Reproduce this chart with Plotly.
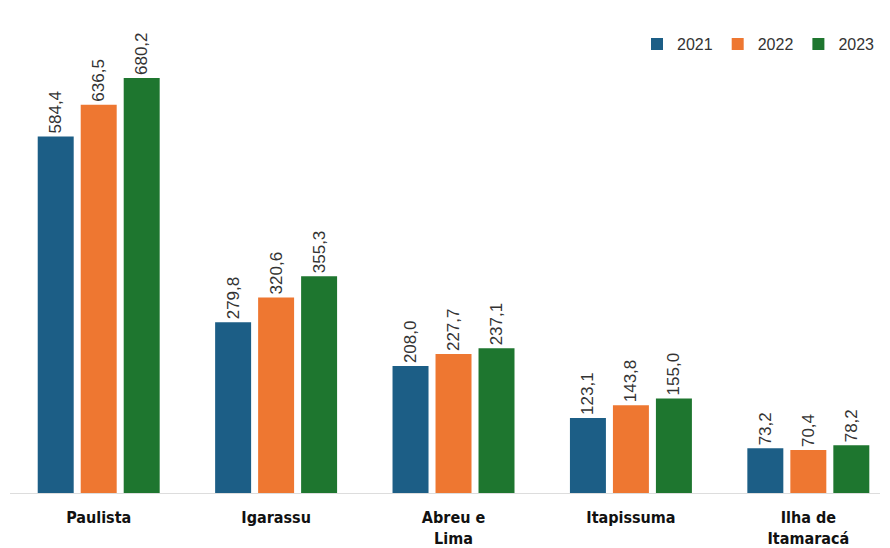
import plotly.graph_objects as go

municipios = ["Paulista", "Igarassu", "Abreu e<br>Lima", "Itapissuma", "Ilha de<br>Itamaracá"]
anos = ["2021", "2022", "2023"]
valores_2021 = [584.4, 279.8, 208.0, 123.1, 73.2]
valores_2022 = [636.5, 320.6, 227.7, 143.8, 70.4]
valores_2023 = [680.2, 355.3, 237.1, 155.0, 78.2]
cores = ["#1C5E86", "#EE7731", "#1E762F"]

fig = go.Figure()
for ano, vals, cor in zip(anos, [valores_2021, valores_2022, valores_2023], cores):
    fig.add_trace(go.Bar(
        x=municipios, y=vals, name=ano,
        marker=dict(color=cor, line=dict(width=0)),
        texttemplate="%{y:.1f}", textposition="outside", textangle=-90,
        constraintext="none",
        textfont=dict(family="Liberation Sans, Arial, sans-serif", size=17, color="#333333"),
        cliponaxis=False,
    ))

fig.update_layout(
    width=890, height=548,
    margin=dict(l=10, r=10, t=20, b=55, autoexpand=False),
    paper_bgcolor="white", plot_bgcolor="white",
    separators=",.",
    barmode="group", bargap=0.273, bargroupgap=0.163,
    showlegend=True,
    legend=dict(orientation="h", x=1.0, xanchor="right", y=0.949, yanchor="middle",
                font=dict(family="Liberation Sans, Arial, sans-serif", size=16, color="#333333"),
                itemwidth=30, traceorder="normal", bgcolor="rgba(0,0,0,0)"),
    xaxis=dict(range=[-0.5, 4.404], showgrid=False, showline=True, linecolor="#DDDDDD",
               linewidth=1, ticks="", ticklabelstandoff=10,
               tickfont=dict(family="DejaVu Sans Condensed, Roboto, sans-serif", size=16,
                             color="#111111", weight="bold")),
    yaxis=dict(range=[0, 775.3], visible=False, showgrid=False, zeroline=False),
)

fig.write_html("out.html")
